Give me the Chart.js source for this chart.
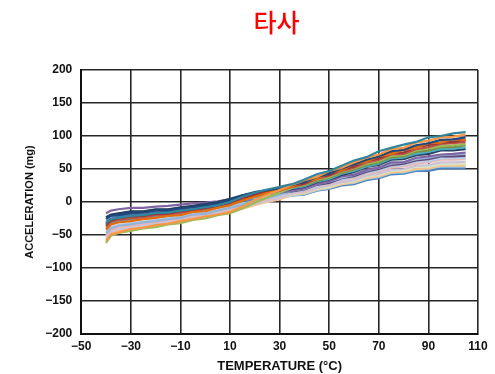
<!doctype html>
<html lang="ko">
<head>
<meta charset="utf-8">
<title>타사</title>
<script src="https://cdn.jsdelivr.net/npm/chart.js@4"></script>
<style>
  html, body { margin: 0; padding: 0; background: #fff; }
</style>
</head>
<body>
<canvas id="myChart" width="495" height="374"></canvas>
<script>
    const chartTitle = '타사';
    const xTitle = 'TEMPERATURE (°C)';
    const yTitle = 'ACCELERATION (mg)';

    const xTicks = [-50, -30, -10, 10, 30, 50, 70, 90, 110];
    const yTicks = [-200, -150, -100, -50, 0, 50, 100, 150, 200];

    // temperature, °C
    const temps = [-40, -38, -35, -30, -25, -20, -15, -10, -5, 0, 5, 10, 15, 20, 25, 30,
        35, 40, 45, 50, 55, 60, 65, 70, 75, 80, 85, 90, 95, 100, 105];

    // one curve per part, acceleration in mg
    const teal = [-32, -26, -24, -21, -20, -17, -16, -13, -11, -8, -5, 0, 8, 14, 19, 23, 27, 34, 42, 47, 55, 63, 68, 77, 82, 87, 91, 98, 100, 104, 106];
    const orange = [-59, -49, -46, -41, -39, -35, -33, -29, -26, -22, -19, -15, -7, 3, 11, 18, 26, 33, 38, 47, 52, 60, 67, 72, 80, 82, 90, 93, 98, 99, 102];
    const darkBlue = [-26, -21, -20, -17, -16, -13, -13, -10, -8, -5, -2, 3, 10, 15, 18, 21, 26, 30, 38, 43, 51, 57, 64, 69, 77, 79, 86, 89, 94, 95, 98];
    const darkOrange = [-42, -34, -31, -29, -26, -24, -21, -20, -15, -14, -9, -5, 2, 8, 14, 18, 23, 31, 35, 44, 48, 57, 61, 69, 73, 79, 82, 89, 90, 95, 94];
    const darkRed = [-34, -28, -25, -22, -21, -18, -18, -14, -12, -9, -6, -1, 6, 11, 16, 19, 24, 28, 37, 41, 49, 54, 62, 66, 74, 75, 83, 86, 90, 91, 94];
    const red = [-37, -30, -27, -25, -23, -20, -19, -16, -14, -10, -7, -3, 4, 9, 14, 17, 23, 27, 35, 40, 47, 52, 60, 64, 72, 73, 80, 83, 88, 89, 91];
    const green = [-62, -51, -47, -44, -40, -38, -34, -32, -27, -25, -20, -17, -10, -1, 7, 14, 22, 26, 34, 38, 46, 51, 58, 62, 70, 71, 78, 81, 85, 86, 88];
    const olive = [-35, -29, -26, -23, -22, -19, -18, -15, -13, -10, -6, -2, 4, 9, 13, 16, 22, 25, 32, 37, 44, 49, 56, 60, 68, 69, 76, 78, 83, 83, 86];
    const aqua = [-39, -32, -29, -26, -25, -22, -21, -17, -15, -11, -8, -4, 2, 7, 11, 15, 21, 24, 31, 35, 43, 47, 54, 58, 66, 67, 73, 76, 80, 81, 83];
    const navy = [-23, -19, -17, -14, -14, -11, -11, -8, -6, -3, 0, 5, 10, 13, 15, 16, 20, 23, 30, 34, 41, 45, 53, 56, 64, 65, 71, 73, 78, 78, 80];
    const purple = [-17, -13, -11, -9, -9, -7, -6, -4, -2, -1, 1, 4, 6, 9, 12, 14, 17, 21, 27, 31, 39, 41, 49, 52, 60, 60, 67, 69, 72, 73, 75];
    const greyBlue = [-48, -40, -36, -34, -31, -29, -26, -24, -19, -18, -13, -9, -4, 2, 6, 11, 17, 20, 27, 31, 37, 41, 48, 52, 58, 60, 65, 67, 71, 72, 73];
    const darkPurple = [-24, -20, -18, -15, -15, -12, -12, -9, -7, -4, -1, 4, 9, 11, 12, 13, 16, 19, 26, 29, 36, 39, 46, 50, 56, 58, 63, 65, 69, 69, 70];
    const lightBlue = [-46, -38, -35, -32, -30, -27, -25, -22, -19, -16, -13, -8, -4, 1, 6, 9, 15, 18, 24, 28, 34, 38, 44, 48, 54, 56, 61, 62, 66, 67, 67];
    const lightPink = [-51, -42, -39, -36, -33, -31, -27, -26, -21, -19, -14, -11, -6, -1, 4, 8, 14, 16, 23, 27, 33, 36, 42, 46, 52, 54, 58, 60, 64, 64, 65];
    const lightPurple = [-54, -45, -41, -38, -35, -33, -29, -27, -23, -21, -16, -13, -8, -3, 2, 6, 13, 15, 21, 25, 30, 33, 40, 43, 49, 50, 55, 56, 60, 60, 61];
    const lightGreen = [-52, -43, -39, -37, -33, -32, -28, -26, -22, -20, -15, -12, -8, -3, 2, 6, 12, 14, 20, 23, 29, 31, 38, 41, 47, 48, 53, 53, 57, 57, 58];
    const lightOrange = [-56, -46, -43, -39, -37, -34, -30, -29, -24, -22, -17, -14, -10, -5, 0, 4, 11, 13, 19, 22, 27, 30, 36, 39, 45, 46, 50, 51, 55, 55, 55];
    const lightAqua = [-41, -33, -30, -28, -26, -23, -22, -19, -15, -13, -9, -5, -2, 1, 4, 6, 10, 12, 18, 21, 27, 29, 35, 38, 44, 45, 49, 50, 54, 54, 54];
    const blue = [-30, -25, -22, -19, -19, -16, -15, -12, -10, -7, -4, 0, 2, 3, 4, 6, 10, 11, 17, 20, 25, 27, 33, 36, 42, 43, 47, 47, 51, 51, 51];

    // first in list is drawn on top
    const curves = [
        [teal, '#31859C'], [orange, '#F79646'], [darkBlue, '#1F497D'], [darkOrange, '#E46C0A'],
        [darkRed, '#953735'], [red, '#C0504D'], [green, '#9BBB59'], [olive, '#77933C'],
        [aqua, '#4BACC6'], [navy, '#254061'], [purple, '#8064A2'], [greyBlue, '#95B3D7'],
        [darkPurple, '#5F497A'], [lightBlue, '#B9CDE5'], [lightPink, '#E6B9B8'], [lightPurple, '#CCC1DA'],
        [lightGreen, '#D7E4BD'], [lightOrange, '#FAC090'], [lightAqua, '#93CDDD'], [blue, '#4F81BD']
    ];

    const datasets = curves.map(function (c) {
        return {
            data: c[0].map((v, i) => ({x: temps[i], y: v})),
            borderColor: c[1],
            borderWidth: 2.2,
            pointRadius: 0,
            tension: 0,
            fill: false
        };
    });

    const minus = v => String(v).replace('-', '\u2212');
    const tickFont = {family: 'Liberation Sans', weight: 'bold', size: 12};
    const gridStyle = {color: '#262626', lineWidth: 1.6, drawTicks: false};

    // title sits over the plot area, not over the whole canvas
    const plotTitle = {
        id: 'plotTitle',
        afterDraw(chart) {
            const ctx = chart.ctx;
            const a = chart.chartArea;
            ctx.save();
            ctx.font = '500 25px "Noto Sans CJK KR"';
            ctx.fillStyle = '#FF0000';
            ctx.textAlign = 'center';
            ctx.textBaseline = 'middle';
            ctx.fillText(chartTitle, (a.left + a.right) / 2 - 3, 22);
            ctx.restore();
        }
    };

    const myChart = new Chart(document.getElementById('myChart'), {
        type: 'line',
        data: {datasets: datasets},
        options: {
            responsive: false,
            animation: false,
            devicePixelRatio: 1,
            layout: {padding: {top: 70, right: 17, bottom: 0, left: 13}},
            plugins: {legend: {display: false}, tooltip: {enabled: false}},
            scales: {
                x: {
                    type: 'linear', min: -50, max: 110,
                    afterBuildTicks: axis => { axis.ticks = xTicks.map(v => ({value: v})); },
                    grid: gridStyle,
                    border: {color: '#111', width: 2},
                    ticks: {padding: 5, color: '#111', font: tickFont, callback: minus, maxRotation: 0},
                    title: {display: true, text: xTitle, color: '#111',
                        font: {family: 'Liberation Sans', weight: 'bold', size: 13}, padding: {top: 0, bottom: 0}}
                },
                y: {
                    min: -200, max: 200,
                    afterBuildTicks: axis => { axis.ticks = yTicks.map(v => ({value: v})); },
                    grid: gridStyle,
                    border: {color: '#111', width: 2},
                    ticks: {padding: 9, color: '#111', font: tickFont, callback: minus},
                    title: {display: true, text: yTitle, color: '#111',
                        font: {family: 'Liberation Sans', weight: 'bold', size: 11}, padding: {top: 10, bottom: 0}}
                }
            }
        },
        plugins: [plotTitle]
    });
</script>
</body>
</html>
